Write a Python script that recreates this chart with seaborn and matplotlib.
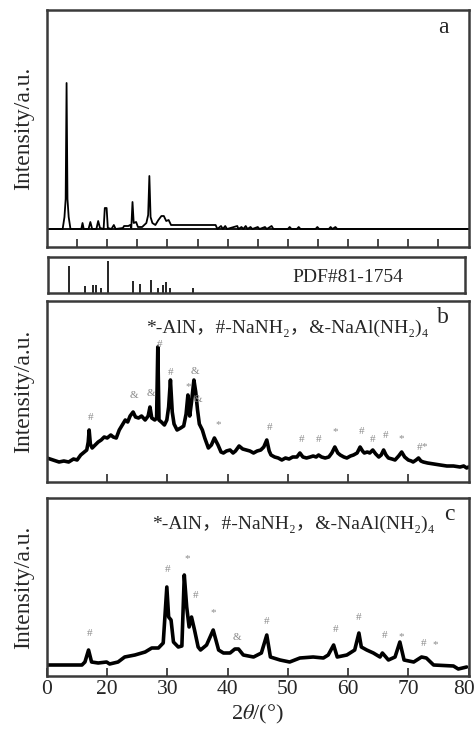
import matplotlib
matplotlib.use("Agg")
import matplotlib.pyplot as plt
import matplotlib.transforms as mtransforms
import seaborn as sns

sns.set_style("ticks")
plt.rcParams['font.family'] = ['Liberation Serif', 'DejaVu Serif', 'Noto Sans CJK SC']
plt.rcParams['mathtext.fontset'] = 'stix'

# ---------------- data ----------------
# panel a: measured pattern (2theta, intensity)
a_theta = [10.0, 12.6, 12.9, 13.1, 13.25, 13.4, 13.6, 13.9, 15.7, 15.9, 16.1, 16.9, 17.2, 17.5,
           18.2, 18.5, 18.8, 19.4, 19.6, 19.9, 20.1, 20.7, 21.1, 21.4, 22.6, 22.8, 23.5, 23.8,
           24.0, 24.2, 24.4, 24.8, 25.1, 25.8, 26.5, 26.8, 27.0, 27.2, 27.5, 28.0, 28.5, 29.0,
           29.4, 29.8, 30.2, 30.6, 38.0, 38.3, 38.9, 39.2, 39.6, 39.9, 41.6, 41.8, 42.3, 42.6,
           43.0, 43.3, 43.8, 44.1, 45.0, 45.3, 46.2, 46.5, 47.3, 47.6, 50.0, 50.3, 50.6, 51.5,
           51.8, 52.1, 54.6, 54.9, 55.2, 56.8, 57.1, 57.4, 57.9, 58.2, 80.0]
a_int = [18, 18, 30, 48, 164, 48, 30, 18, 18, 24, 18, 18, 25, 18,
         18, 26, 19, 18, 39, 39, 19, 18, 22, 18, 19, 21, 21, 22,
         19, 45, 24, 25, 20, 20, 24, 32, 71, 30, 24, 22, 27, 31,
         31, 26, 27, 22, 22, 18, 21, 18, 21, 18, 21, 18, 20, 18,
         21, 18, 20, 18, 20, 18, 20, 18, 21, 18, 18, 20, 18, 18,
         20, 18, 18, 20, 18, 18, 20, 18, 20, 18, 18]
a_baseline = 18

# reference card PDF#81-1754
pdf_theta = [13.6, 16.3, 17.7, 18.1, 19.0, 20.1, 24.3, 25.4, 27.3, 28.4, 29.3, 29.7, 30.4, 34.3]
pdf_int = [27, 7, 8, 8, 5, 32, 12, 9, 13, 5, 8, 11, 5, 5]

# panel b
b_theta = [10.0, 11.0, 12.0, 12.8, 13.6, 14.4, 15.0, 15.6, 16.2, 16.6, 16.85, 17.0, 17.2, 17.5, 18.0,
           18.5, 19.0, 19.5, 20.0, 20.6, 21.0, 21.5, 22.0, 22.5, 23.0, 23.4, 23.8, 24.3, 24.7, 25.2,
           25.7, 26.3, 26.8, 27.1, 27.4, 27.9, 28.2, 28.4, 28.6, 29.0, 29.5, 29.9, 30.2, 30.5, 30.8,
           31.1, 31.6, 32.2, 32.7, 33.1, 33.4, 33.7, 34.0, 34.4, 34.7, 35.0, 35.3, 35.8, 36.2, 36.8,
           37.3, 37.8, 38.4, 38.9, 39.3, 39.8, 40.4, 40.9, 41.3, 41.9, 42.5, 43.1, 43.7, 44.3, 44.9,
           45.5, 46.0, 46.5, 46.9, 47.2, 47.8, 48.4, 49.0, 49.6, 50.2, 50.8, 51.5, 52.0, 52.5, 53.1,
           53.7, 54.2, 54.7, 55.1, 55.6, 56.2, 56.8, 57.3, 57.8, 58.3, 58.7, 59.3, 59.8, 60.4, 60.9,
           61.5, 62.0, 62.4, 62.7, 63.2, 63.6, 64.1, 64.6, 65.1, 65.5, 65.9, 66.3, 66.7, 67.3, 67.8,
           68.4, 68.9, 69.4, 70.0, 70.5, 70.8, 71.3, 71.7, 72.1, 72.5, 73.2, 74.2, 75.3, 76.4, 77.5,
           78.6, 79.2, 79.7, 80.0]
b_int = [24, 22, 20, 21, 20, 23, 22, 27, 30, 32, 40, 52, 38, 34, 37,
         40, 42, 45, 44, 47, 45, 44, 52, 57, 62, 60, 66, 70, 65, 64,
         66, 62, 66, 75, 64, 62, 64, 135, 62, 60, 57, 62, 75, 102, 70,
         58, 52, 54, 56, 68, 87, 66, 80, 102, 90, 72, 58, 52, 44, 34,
         37, 44, 37, 30, 29, 31, 32, 29, 31, 36, 33, 32, 31, 29, 31,
         32, 35, 42, 31, 27, 25, 24, 22, 24, 23, 25, 25, 29, 25, 24,
         25, 26, 25, 27, 25, 24, 25, 29, 35, 29, 27, 25, 24, 26, 27,
         29, 35, 31, 29, 30, 29, 32, 28, 25, 27, 32, 27, 24, 23, 22,
         26, 30, 25, 22, 21, 20, 22, 24, 21, 20, 19, 18, 17, 16, 16,
         15, 16, 14, 15]
b_mark_theta = [17.2, 24.5, 27.3, 28.7, 30.6, 33.4, 34.5, 35.0, 38.4, 47.0, 52.3, 55.1, 57.8,
                62.2, 64.0, 66.3, 68.9, 71.8, 72.6]
b_mark_int = [64, 87, 89, 138, 110, 95, 111, 82, 57, 54, 43, 42, 50, 51, 43, 47, 43, 35, 35]
b_mark_sym = ['#', '&', '&', '#', '#', '*', '&', '&', '*', '#', '#', '#', '*',
              '#', '#', '#', '*', '#', '*']

# panel c
c_theta = [10.0, 15.8, 16.3, 16.9, 17.4, 18.5, 19.9, 20.4, 21.8, 22.9, 24.6, 26.3, 27.4, 28.5,
           29.3, 29.9, 30.2, 30.6, 31.0, 31.8, 32.4, 32.8, 33.2, 33.6, 34.0, 34.5, 35.1, 35.5,
           36.5, 37.6, 38.5, 39.3, 40.4, 41.2, 41.8, 42.6, 44.3, 45.6, 46.5, 47.1, 48.7, 50.3,
           52.0, 54.2, 55.9, 56.7, 57.6, 58.2, 59.8, 61.1, 61.8, 62.2, 63.1, 64.2, 65.3, 65.7,
           66.7, 67.8, 68.6, 69.3, 70.9, 72.2, 73.0, 74.2, 77.5, 78.3, 79.7]
c_int = [11, 11, 14, 26, 14, 13, 14, 12, 14, 19, 21, 24, 28, 28,
         33, 89, 59, 56, 34, 29, 30, 101, 69, 49, 59, 46, 29, 26,
         31, 46, 26, 23, 23, 27, 27, 21, 19, 23, 41, 19, 16, 14,
         18, 19, 18, 21, 31, 19, 21, 26, 43, 29, 26, 23, 19, 23,
         16, 19, 34, 16, 14, 19, 18, 11, 10, 7, 9]
c_mark_theta = [17.0, 30.0, 33.3, 34.6, 37.6, 41.5, 46.5, 58.0, 61.8, 66.0, 68.9, 72.5, 74.4]
c_mark_int = [42, 106, 117, 80, 63, 38, 54, 46, 58, 41, 39, 33, 31]
c_mark_sym = ['#', '#', '*', '#', '*', '&', '#', '#', '#', '#', '*', '#', '*']

legend_text = '*-AlN\uff0c#-NaNH\u2082\uff0c&-NaAl(NH\u2082)\u2084'
x_ticks_c = [10, 20, 30, 40, 50, 60, 70, 80]
x_ticklabels_c = ['0', '20', '30', '40', '50', '60', '70', '80']

# ---------------- figure ----------------
W, H = 476, 733
fig = plt.figure(figsize=(W / 100, H / 100), dpi=100)

def px_axes(l, t, r, b):
    return fig.add_axes([l / W, 1 - b / H, (r - l) / W, (b - t) / H])

frame_col = '#3a3a3a'

def style(ax):
    for s in ax.spines.values():
        s.set_color(frame_col)
        s.set_linewidth(1.8)
    ax.set_yticks([])
    ax.tick_params(axis='x', direction='in', length=6, width=1.3, color=frame_col,
                   labelsize=15.5, pad=3)

ax_a = px_axes(47, 10, 468.5, 247)
ax_p = px_axes(48, 257, 465, 293)
ax_b = px_axes(47, 301, 468.5, 482)
ax_c = px_axes(47, 498, 468.5, 676)

# panel a
sns.lineplot(x=a_theta, y=a_int, ax=ax_a, color='black', lw=1.3, estimator=None, sort=False)
ax_a.axhline(a_baseline, color='black', lw=1.3)
ax_a.set_xlim(10, 80)
ax_a.set_ylim(0, 237)
style(ax_a)
ax_a.set_xticks(list(range(15, 80, 5)))
ax_a.set_xticklabels([])
ax_a.set_ylabel('Intensity/a.u.', fontsize=17, labelpad=9)
ax_a.text(0.94, 0.925, 'a', transform=ax_a.transAxes, fontsize=17, ha='center', va='center')

# PDF card
ax_p.vlines(pdf_theta, 0, pdf_int, color='black', lw=1.2)
ax_p.set_xlim(10.15, 79.42)
ax_p.set_ylim(0, 36)
style(ax_p)
ax_p.set_xticks([])
ax_p.text(0.72, 0.42, 'PDF#81-1754', transform=ax_p.transAxes, fontsize=14,
          ha='center', va='center')

# panel b
sns.lineplot(x=b_theta, y=b_int, ax=ax_b, color='black', lw=2.6, estimator=None, sort=False)
ax_b.set_xlim(10, 80)
ax_b.set_ylim(0, 181)
style(ax_b)
ax_b.set_xticks([20, 30, 40, 50, 60, 70])
ax_b.set_xticklabels([])
ax_b.set_ylabel('Intensity/a.u.', fontsize=17, labelpad=9)
for t, v, s in zip(b_mark_theta, b_mark_int, b_mark_sym):
    ax_b.text(t, v, s, fontsize=8, color='#8a8a8a', ha='center', va='center')
ax_b.text(0.57, 0.85, legend_text, transform=ax_b.transAxes, fontsize=14,
          ha='center', va='center')
ax_b.text(0.94, 0.91, 'b', transform=ax_b.transAxes, fontsize=17, ha='center', va='center')

# panel c
sns.lineplot(x=c_theta, y=c_int, ax=ax_c, color='black', lw=2.6, estimator=None, sort=False)
ax_c.set_xlim(10, 80)
ax_c.set_ylim(0, 178)
style(ax_c)
ax_c.set_xticks(x_ticks_c)
ax_c.set_xticklabels(x_ticklabels_c)
# keep the last label inside the picture
last = ax_c.get_xticklabels()[-1]
last.set_transform(last.get_transform() + mtransforms.ScaledTranslation(-5 / 100, 0, fig.dpi_scale_trans))
ax_c.set_ylabel('Intensity/a.u.', fontsize=17, labelpad=9)
ax_c.set_xlabel(r'2$\mathit{\theta}$/(°)', fontsize=16, labelpad=3)
for t, v, s in zip(c_mark_theta, c_mark_int, c_mark_sym):
    ax_c.text(t, v, s, fontsize=8, color='#8a8a8a', ha='center', va='center')
ax_c.text(0.585, 0.85, legend_text, transform=ax_c.transAxes, fontsize=14,
          ha='center', va='center')
ax_c.text(0.955, 0.905, 'c', transform=ax_c.transAxes, fontsize=17, ha='center', va='center')

fig.savefig('out.png', dpi=100)
